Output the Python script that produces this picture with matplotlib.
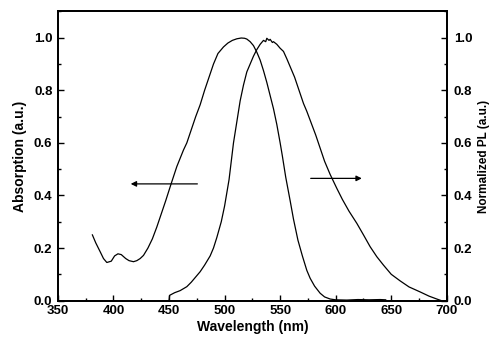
import matplotlib.pyplot as plt
from matplotlib.ticker import MultipleLocator

plt.rcParams['font.family'] = ['Liberation Sans', 'DejaVu Sans']
plt.rcParams['font.weight'] = 'bold'

# absorption spectrum (left axis)
abs_wl = [381, 384, 388, 391, 394, 398, 401, 404, 407, 411, 414, 418, 421, 424, 427,
          431, 435, 439, 443, 447, 452, 457, 463, 466, 470, 474, 478, 482, 486, 490,
          494, 499, 503, 507, 511, 515, 518, 520, 523, 526, 529, 532, 535, 538, 541,
          544, 547, 550, 552, 555, 559, 562, 566, 570, 574, 577, 581, 586, 590, 595,
          600, 610, 620, 630, 640, 645]
abs_val = [0.25, 0.22, 0.186, 0.16, 0.145, 0.15, 0.17, 0.178, 0.175, 0.16, 0.152, 0.148,
           0.152, 0.16, 0.172, 0.2, 0.235, 0.28, 0.33, 0.38, 0.446, 0.51, 0.573, 0.6, 0.65,
           0.7, 0.745, 0.8, 0.85, 0.9, 0.94, 0.965, 0.98, 0.99, 0.996, 0.999, 0.998, 0.995,
           0.985, 0.97, 0.945, 0.915, 0.875, 0.83, 0.78, 0.73, 0.67, 0.6, 0.55, 0.47, 0.38,
           0.31, 0.23, 0.17, 0.115, 0.085, 0.055, 0.028, 0.014, 0.006, 0.003, 0.002, 0.004,
           0.003, 0.004, 0.003]

# photoluminescence spectrum (right axis)
pl_wl = [450, 450.5, 455, 460, 466, 470, 474, 478, 482, 487, 490, 493, 497, 500, 504,
         508, 511, 514, 517, 520, 523, 526, 529, 532, 535, 537, 538, 540, 541, 543, 544,
         547, 550, 553, 556, 559, 563, 567, 571, 574, 578, 582, 586, 590, 595, 601, 606,
         612, 619, 625, 631, 637, 643, 650, 658, 666, 676, 684, 691, 695]
pl_val = [0.0, 0.02, 0.03, 0.038, 0.053, 0.07, 0.09, 0.11, 0.135, 0.17, 0.2, 0.24, 0.3,
          0.36, 0.46, 0.6, 0.68, 0.76, 0.82, 0.87, 0.9, 0.93, 0.955, 0.975, 0.99, 0.985,
          0.998, 0.99, 0.994, 0.982, 0.985, 0.975, 0.96, 0.948, 0.92, 0.89, 0.85, 0.8,
          0.75, 0.72, 0.675, 0.63, 0.58, 0.53, 0.48, 0.427, 0.385, 0.34, 0.294, 0.25,
          0.205, 0.167, 0.135, 0.1, 0.075, 0.052, 0.033, 0.017, 0.006, 0.0]

fig = plt.figure(figsize=(4.91, 3.37), dpi=100)
ax = fig.add_axes([0.118, 0.108, 0.792, 0.858])
ax2 = ax.twinx()

ax.plot(abs_wl, abs_val, color='black', lw=0.9)
ax2.plot(pl_wl, pl_val, color='black', lw=0.9)

ax.set_xlim(350, 700)
ax.set_ylim(0, 1.1)
ax2.set_ylim(0, 1.1)

ax.xaxis.set_major_locator(MultipleLocator(50))
ax.xaxis.set_minor_locator(MultipleLocator(25))
for a in (ax, ax2):
    a.yaxis.set_major_locator(MultipleLocator(0.2))
    a.yaxis.set_minor_locator(MultipleLocator(0.1))
    a.set_yticks([0, 0.2, 0.4, 0.6, 0.8, 1.0])
    a.yaxis.set_major_formatter(plt.FormatStrFormatter('%.1f'))
    for s in a.spines.values():
        s.set_linewidth(1.3)
    a.tick_params(which='major', length=4, width=1)
    a.tick_params(which='minor', length=2.5, width=1)

ax.tick_params(which='both', direction='in', top=False, right=False, labelsize=9.5)
ax.tick_params(axis='x', which='both', pad=3.5)
ax.tick_params(axis='y', which='both', pad=4)
ax2.tick_params(which='both', direction='in', labelsize=9.5, pad=5)

ax.set_xlabel('Wavelength (nm)', fontsize=10, fontweight='bold', labelpad=1.5)
ax.set_ylabel('Absorption (a.u.)', fontsize=10, fontweight='bold', labelpad=5)
ax2.set_ylabel('Normalized PL (a.u.)', fontsize=8.5, fontweight='bold', labelpad=4)

# direction arrows
ax.annotate('', xy=(413, 0.444), xytext=(478, 0.444),
            arrowprops=dict(arrowstyle='-|>', color='black', lw=0.9, mutation_scale=8))
ax.annotate('', xy=(626, 0.465), xytext=(575, 0.465),
            arrowprops=dict(arrowstyle='-|>', color='black', lw=0.9, mutation_scale=8))

fig.savefig('out.png', dpi=100)
